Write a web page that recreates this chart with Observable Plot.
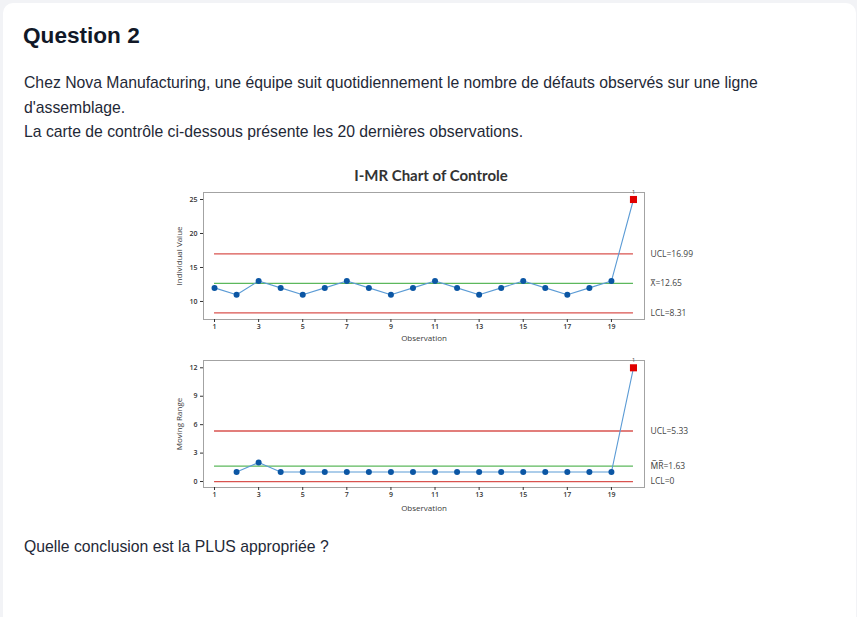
<!DOCTYPE html>
<html>
<head>
<meta charset="utf-8">
<script src="https://cdn.jsdelivr.net/npm/d3@7"></script>
<script src="https://cdn.jsdelivr.net/npm/@observablehq/plot@0.6"></script>
<style>
  html, body { margin: 0; padding: 0; background: #f2f3f6; }
  body { width: 857px; height: 617px; overflow: hidden; position: relative;
         font-family: "Liberation Sans", Arial, sans-serif; color: #1a1a1a; }
  #card { position: absolute; left: 3px; top: 3px; width: 853px; height: 660px;
          background: #fff; border-radius: 10px; }
  .abs { position: absolute; white-space: nowrap; }
  #q { left: 23px; top: 24px; font-size: 22.6px; line-height: 23px; font-weight: bold; color: #111827; }
  #intro { left: 24px; top: 71px; font-size: 15.75px; line-height: 24.5px; color: #1f2937; }
  #ask { left: 24px; top: 535px; font-size: 15.75px; line-height: 24.5px; color: #1f2937; }
  #ctitle { left: 231px; width: 400px; text-align: center; top: 168px; font-family: Lato, "Open Sans", sans-serif;
            font-weight: bold; font-size: 15px; line-height: 15px; color: #333; }
  #top { left: 160px; top: 185px; }
  #bot { left: 160px; top: 355px; }
</style>
</head>
<body>
<div id="card"></div>
<div id="q" class="abs">Question 2</div>
<div id="intro" class="abs">Chez Nova Manufacturing, une équipe suit quotidiennement le nombre de défauts observés sur une ligne<br>d'assemblage.<br>La carte de contrôle ci-dessous présente les 20 dernières observations.</div>
<div id="ctitle" class="abs">I-MR Chart of Controle</div>
<div id="top" class="abs"></div>
<div id="bot" class="abs"></div>
<div id="ask" class="abs">Quelle conclusion est la PLUS appropriée ?</div>
<script>
// ---- data ----
const observations = [1,2,3,4,5,6,7,8,9,10,11,12,13,14,15,16,17,18,19,20];
const individualValues = [12,11,13,12,11,12,13,12,11,12,13,12,11,12,13,12,11,12,13,25];
const movingRanges = [null,1,2,1,1,1,1,1,1,1,1,1,1,1,1,1,1,1,1,12];
const iLimits = {ucl: 16.99, center: 12.65, lcl: 8.31};
const mrLimits = {ucl: 5.33, center: 1.63, lcl: 0};
const iLabels = ["UCL=16.99", "X\u0304=12.65", "LCL=8.31"];
const mrLabels = ["UCL=5.33", "M\u0305R\u0305=1.63", "LCL=0"];
const outOfControl = [20];
const xTicks = [1,3,5,7,9,11,13,15,17,19];
const iTicks = [10,15,20,25];
const mrTicks = [0,3,6,9,12];

// ---- styles ----
const RED = "#d9534f", GREEN = "#5cb85c", LINE = "#5b9bd5", DOT = "#0b56a4", SQ = "#e00000";
const font = "'Open Sans', 'Noto Sans', sans-serif";
const first = observations[0], last = observations[observations.length - 1];

function panel({values, limits, labels, yDomain, yTicks, yLabel, mt, mb, obsDy}) {
  const rows = observations.map((o, i) => ({obs: o, v: values[i]})).filter(d => d.v != null);
  const ok = rows.filter(d => !outOfControl.includes(d.obs));
  const bad = rows.filter(d => outOfControl.includes(d.obs));
  const redRows = [{v: limits.ucl}, {v: limits.lcl}];
  const greenRows = [{v: limits.center}];
  const labRows = [
    {v: limits.ucl, label: labels[0]},
    {v: limits.center, label: labels[1]},
    {v: limits.lcl, label: labels[2]}
  ];
  return Plot.plot({
    width: 540, height: 165,
    marginLeft: 43, marginRight: 56, marginTop: mt, marginBottom: mb,
    x: {domain: [first - 0.5, last + 0.5]},
    y: {domain: yDomain},
    style: {fontFamily: font, color: "#333", background: "transparent", overflow: "visible"},
    marks: [
      Plot.frame({stroke: "#a3a3a3"}),
      Plot.axisX({ticks: xTicks, tickSize: 3, tickPadding: 2, fontSize: 7, fontWeight: 600, label: null}),
      Plot.axisY({ticks: yTicks, tickSize: 3, tickPadding: 3, fontSize: 7, fontWeight: 600, label: null}),
      Plot.text([yLabel], {frameAnchor: "left", text: d => d, rotate: -90, dx: -24.5, fontSize: 8, fill: "#3a3a3a", textAnchor: "middle"}),
      Plot.text(["Observation"], {frameAnchor: "bottom", text: d => d, dy: obsDy, fontSize: 8, fill: "#3a3a3a"}),
      Plot.ruleY(redRows, {y: "v", x1: () => first, x2: () => last, stroke: RED, strokeWidth: 1.3}),
      Plot.ruleY(greenRows, {y: "v", x1: () => first, x2: () => last, stroke: GREEN, strokeWidth: 1.3}),
      Plot.text(labRows, {x: () => last, y: "v", text: "label", dx: 17, textAnchor: "start", fontSize: 8.5, fill: "#444"}),
      Plot.line(rows, {x: "obs", y: "v", stroke: LINE, strokeWidth: 1.1}),
      Plot.dot(ok, {x: "obs", y: "v", r: 3, fill: DOT}),
      Plot.dot(bad, {x: "obs", y: "v", r: 4, symbol: "square", fill: SQ}),
      Plot.text(bad, {x: "obs", frameAnchor: "top", text: () => "1", dy: -2, fontSize: 5.5, fill: "#444"})
    ]
  });
}

document.getElementById("top").append(panel({
  values: individualValues, limits: iLimits, labels: iLabels,
  yDomain: [7.35, 26.03], yTicks: iTicks, yLabel: "Individual Value", mt: 7, mb: 31, obsDy: 21.7
}));
document.getElementById("bot").append(panel({
  values: movingRanges, limits: mrLimits, labels: mrLabels,
  yDomain: [-0.63, 12.77], yTicks: mrTicks, yLabel: "Moving Range", mt: 5, mb: 33, obsDy: 23.3
}));
</script>
</body>
</html>
